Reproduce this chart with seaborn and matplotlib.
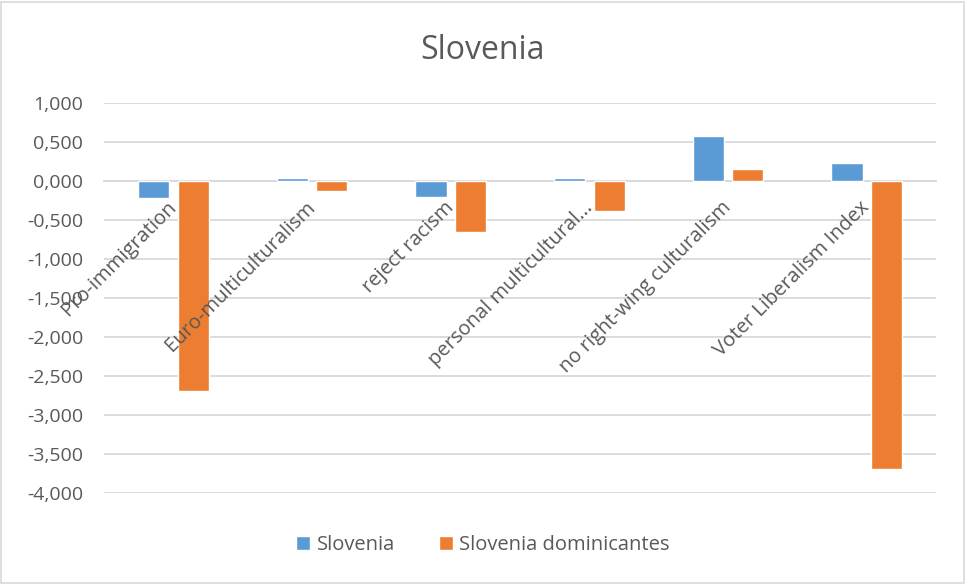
import pandas as pd
import seaborn as sns
import matplotlib.pyplot as plt
import matplotlib.transforms as mtransforms
from matplotlib.patches import Rectangle

# values
categories = ["Pro-immigration", "Euro-multiculturalism", "reject racism",
              "personal multicultural...", "no right-wing culturalism",
              "Voter Liberalism Index"]
slovenia = [-0.22, 0.04, -0.205, 0.03, 0.57, 0.225]
slovenia_dom = [-2.70, -0.125, -0.65, -0.39, 0.15, -3.69]
series_names = ["Slovenia", "Slovenia dominicantes"]
colors = ["#5B9BD5", "#ED7D31"]
yticks = [1.0, 0.5, 0.0, -0.5, -1.0, -1.5, -2.0, -2.5, -3.0, -3.5, -4.0]

df = pd.DataFrame({
    "category": categories * 2,
    "value": slovenia + slovenia_dom,
    "series": [series_names[0]] * len(categories) + [series_names[1]] * len(categories),
})

sns.set_style("white")
plt.rcParams['font.family'] = ['Open Sans', 'DejaVu Sans']
text_color = "#595959"
grid_color = "#D9D9D9"

fig = plt.figure(figsize=(9.66, 5.84), dpi=100)
ax = fig.add_axes([0.1077, 0.156, 0.8613, 0.668])

sns.barplot(data=df, x="category", y="value", hue="series", palette=colors,
            width=0.57, gap=0.21, ax=ax, zorder=3, saturation=1)

ax.set_ylim(-4, 1)
ax.set_xlim(-0.5, len(categories) - 0.5)
ax.set_yticks(yticks)
ax.set_yticklabels([f"{v:.3f}".replace(".", ",") for v in yticks])
ax.grid(axis="y", color=grid_color, linewidth=1.3, zorder=0)
ax.set_axisbelow(True)
for s in ["top", "right", "left"]:
    ax.spines[s].set_visible(False)
ax.spines["bottom"].set_position(("data", 0))
ax.spines["bottom"].set_color(grid_color)
ax.spines["bottom"].set_linewidth(1.3)
ax.spines["bottom"].set_zorder(1)

ax.tick_params(axis="y", length=0, pad=15, labelsize=14, labelcolor=text_color)
ax.tick_params(axis="x", length=0, pad=11, labelsize=14.5, labelcolor=text_color)
shift = mtransforms.ScaledTranslation(-5 / 72, -1 / 72, fig.dpi_scale_trans)
for lab in ax.get_xticklabels():
    lab.set_rotation(45)
    lab.set_ha("right")
    lab.set_rotation_mode("anchor")
    lab.set_transform(lab.get_transform() + shift)
# category labels sit on top of the bars, like the original
ax.xaxis.set_zorder(5)
ax.set_xlabel("")
ax.set_ylabel("")

fig.suptitle("Slovenia", y=0.942, fontsize=23, color=text_color)

handles, labels = ax.get_legend_handles_labels()
ax.legend(handles, labels, loc="center", bbox_to_anchor=(0.5, 0.066),
          bbox_transform=fig.transFigure, ncol=2, frameon=False,
          fontsize=14.5, labelcolor=text_color, handlelength=0.7,
          handleheight=0.7, handletextpad=0.3, columnspacing=2.2)

fig.patches.append(Rectangle((0.001, 0.001), 0.997, 0.996, transform=fig.transFigure,
                             fill=False, edgecolor=grid_color, linewidth=1.2))

plt.savefig("out.png", dpi=100)
